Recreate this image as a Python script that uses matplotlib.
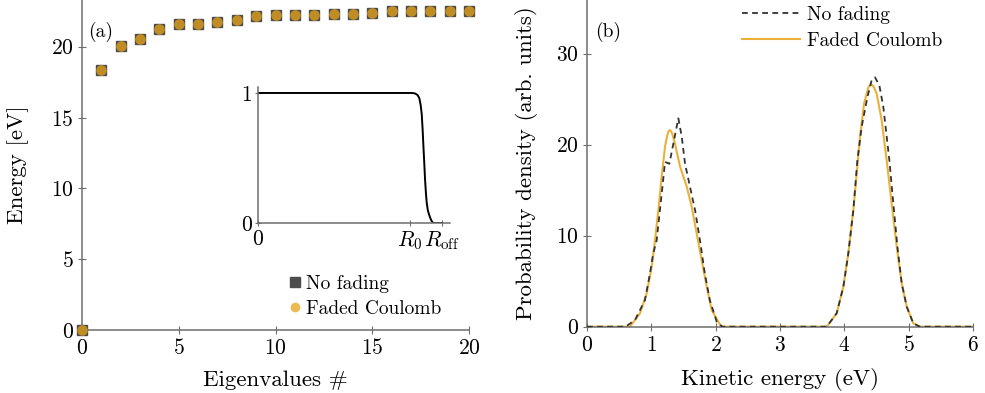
import matplotlib
matplotlib.use("Agg")
import matplotlib.pyplot as plt
from matplotlib.lines import Line2D

plt.rcParams['font.family'] = ['cmr10', 'DejaVu Serif']
plt.rcParams['mathtext.fontset'] = 'cm'
plt.rcParams['axes.formatter.use_mathtext'] = True
plt.rcParams['font.size'] = 15.5

# ---------------- data: panel (a) ----------------
eig_index = list(range(21))
eig_no_fading = [0.0, 18.35, 20.07, 20.57, 21.22, 21.6, 21.6, 21.75, 21.9, 22.15, 22.26,
                 22.26, 22.26, 22.28, 22.32, 22.4, 22.5, 22.55, 22.55, 22.55, 22.55]
eig_faded = [0.0, 18.35, 20.07, 20.57, 21.22, 21.6, 21.6, 21.75, 21.9, 22.15, 22.26,
             22.26, 22.26, 22.28, 22.32, 22.4, 22.5, 22.55, 22.55, 22.55, 22.55]

# inset: fading function
fade_r = [0.0, 0.84, 0.855, 0.868, 0.878, 0.885, 0.891, 0.896, 0.9, 0.905, 0.909,
          0.914, 0.918, 0.924, 0.93, 0.936, 0.943, 0.95, 0.955, 1.0]
fade_v = [1.0, 1.0, 0.996, 0.985, 0.96, 0.91, 0.84, 0.72, 0.6, 0.46, 0.34,
          0.23, 0.16, 0.1, 0.07, 0.045, 0.02, 0.006, 0.0, 0.0]
fade_ticks = [0.0, 0.828, 1.0]
fade_ticklabels = ['0', r'$R_0$', r'$R_{\mathrm{off}}$']

# ---------------- data: panel (b) ----------------
ke_nofade = [0.0, 0.6, 0.746, 0.90, 0.98, 1.03, 1.083, 1.161, 1.213, 1.25, 1.28, 1.342, 1.42,
             1.472, 1.524, 1.6, 1.68, 1.756, 1.83, 1.91, 2.016, 2.1,
             3.726, 3.881, 3.985, 4.062, 4.14, 4.203, 4.27, 4.358, 4.425, 4.477, 4.545,
             4.607, 4.70, 4.762, 4.825, 4.892, 4.97, 5.072, 5.176, 6.0]
pd_nofade = [0.0, 0.0, 0.73, 2.9, 5.9, 8.06, 9.5, 14.6, 18.1, 18.0, 17.9, 20.1, 22.9,
             20.9, 17.9, 15.4, 12.8, 9.5, 5.9, 2.9, 0.55, 0.0,
             0.0, 1.47, 4.4, 8.06, 12.8, 18.3, 22.0, 25.2, 27.1, 27.4, 26.5,
             24.1, 18.3, 13.5, 8.8, 4.76, 2.2, 0.37, 0.0, 0.0]

ke_faded = [0.0, 0.668, 0.824, 0.928, 1.006, 1.057, 1.109, 1.161, 1.213, 1.25, 1.27, 1.29, 1.31,
            1.33, 1.368, 1.446, 1.55, 1.627, 1.705, 1.783, 1.861, 1.938, 2.07, 2.12,
            3.726, 3.881, 3.985, 4.062, 4.14, 4.192, 4.244, 4.306, 4.373, 4.40, 4.425, 4.45,
            4.503, 4.58, 4.658, 4.736, 4.814, 4.892, 4.97, 5.072, 5.176, 6.0]
pd_faded = [0.0, 0.0, 1.47, 3.67, 6.6, 9.5, 12.8, 16.5, 19.8, 21.1, 21.5, 21.6, 21.45,
            21.1, 20.1, 17.6, 15.4, 13.2, 10.25, 7.3, 4.4, 1.83, 0.2, 0.0,
            0.0, 1.47, 4.4, 8.06, 12.8, 16.8, 20.9, 24.5, 26.3, 26.55, 26.6, 26.45,
            25.6, 22.7, 18.3, 13.5, 8.8, 4.76, 2.2, 0.37, 0.0, 0.0]

GRAY_SPINE = '#6e6e6e'
SQ_COLOR = '#4d4d4d'
OR_COLOR = '#E8A317'
OR_ALPHA = 0.75

W, H = 985, 393
fig = plt.figure(figsize=(W / 100, H / 100), dpi=100)


def px_axes(x0, x1, y_top, y_bot):
    return fig.add_axes([x0 / W, 1 - y_bot / H, (x1 - x0) / W, (y_bot - y_top) / H])


def style(ax, ticklen=6):
    for s in ('top', 'right'):
        ax.spines[s].set_visible(False)
    for s in ('left', 'bottom'):
        ax.spines[s].set_color(GRAY_SPINE)
        ax.spines[s].set_linewidth(1.1)
    ax.tick_params(direction='inout', length=ticklen, width=0.8, color=GRAY_SPINE,
                   labelcolor='black', pad=3)


# ---------------- panel (a) ----------------
axa = px_axes(82, 469, 0, 330)
style(axa)
axa.plot(eig_index, eig_no_fading, linestyle='none', marker='s', markersize=7.6,
         color=SQ_COLOR, clip_on=False, zorder=3)
axa.plot(eig_index, eig_faded, linestyle='none', marker='o', markersize=7.6,
         color=OR_COLOR, alpha=OR_ALPHA, markeredgewidth=0, clip_on=False, zorder=4)
axa.set_xlim(0, 20)
axa.set_ylim(0, 23.3)
axa.set_xticks([0, 5, 10, 15, 20])
axa.set_yticks([0, 5, 10, 15, 20])
axa.set_xlabel('Eigenvalues #', labelpad=9, fontsize=16.5)
axa.set_ylabel('Energy [eV]', labelpad=16, fontsize=16.5)
axa.text(0.015, 0.903, '(a)', transform=axa.transAxes, fontsize=14, va='center')

handles_a = [Line2D([], [], linestyle='none', marker='s', markersize=6.5, color=SQ_COLOR),
             Line2D([], [], linestyle='none', marker='o', markersize=7, color=OR_COLOR,
                    alpha=OR_ALPHA, markeredgewidth=0)]
axa.legend(handles_a, ['No fading', 'Faded Coulomb'], frameon=False,
           loc='upper left', bbox_to_anchor=(289 / W, 1 - 275 / H),
           bbox_transform=fig.transFigure, handlelength=0.6, handletextpad=0.25,
           labelspacing=0.35, borderpad=0, borderaxespad=0, fontsize=14)

# inset
axi = px_axes(258, 450, 87, 223)
style(axi, ticklen=5)
axi.plot(fade_r, fade_v, color='black', linewidth=1.4)
axi.set_xlim(0, 1.045)
axi.set_ylim(0, 1.046)
axi.set_xticks(fade_ticks)
axi.set_xticklabels(fade_ticklabels)
axi.set_yticks([0, 1])
axi.set_yticklabels(['0', '1'])
axi.tick_params(pad=2)

# ---------------- panel (b) ----------------
axb = px_axes(587, 973, 0, 326.7)
style(axb)
axb.plot(ke_nofade, pd_nofade, color='#333333', linestyle=(0, (3.2, 2.4)), linewidth=1.3,
         label='No fading', zorder=3)
axb.plot(ke_faded, pd_faded, color=OR_COLOR, alpha=0.85, linewidth=1.5,
         label='Faded Coulomb', zorder=2)
axb.set_xlim(0, 6)
axb.set_ylim(0, 35.9)
axb.set_xticks([0, 1, 2, 3, 4, 5, 6])
axb.set_yticks([0, 10, 20, 30])
axb.set_xlabel('Kinetic energy (eV)', labelpad=9, fontsize=16.5)
axb.set_ylabel('Probability density (arb. units)', labelpad=13, fontsize=16.5)
axb.text(0.02, 0.902, '(b)', transform=axb.transAxes, fontsize=14, va='center')
axb.legend(frameon=False, loc='upper left', bbox_to_anchor=(742 / W, 1 - 6 / H),
           bbox_transform=fig.transFigure, handlelength=3.0, handletextpad=0.35,
           labelspacing=0.4, borderpad=0, borderaxespad=0, fontsize=14)

fig.savefig('out.png', dpi=100)
